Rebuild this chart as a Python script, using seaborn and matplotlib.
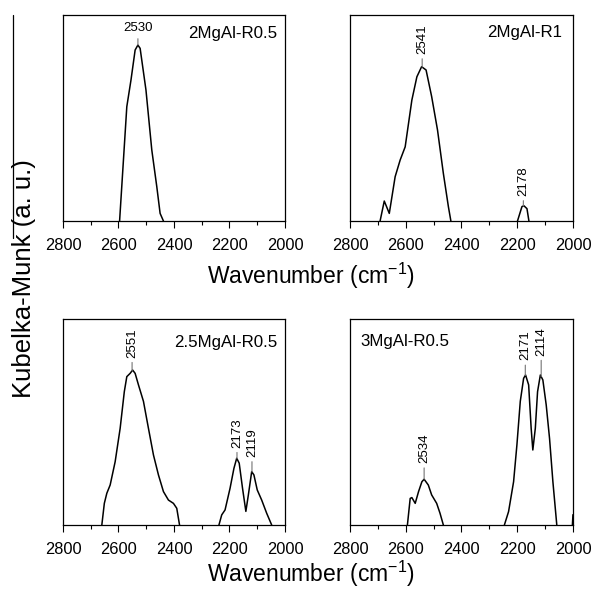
import numpy as np
import pandas as pd
import seaborn as sns
import matplotlib.pyplot as plt
from matplotlib.lines import Line2D

mg2_r05_x = [2596, 2570, 2555, 2540, 2530, 2522, 2501, 2480, 2462, 2450, 2438]
mg2_r05_y = [0, 0.555, 0.684, 0.830, 0.854, 0.838, 0.636, 0.345, 0.167, 0.037, 0.0]

mg2_r1_x1 = [2692, 2677, 2659, 2638, 2620, 2602, 2578, 2560, 2543, 2527, 2507, 2486, 2465, 2447, 2438]
mg2_r1_y1 = [0, 0.097, 0.037, 0.215, 0.296, 0.36, 0.587, 0.70, 0.749, 0.733, 0.604, 0.442, 0.231, 0.07, 0]
mg2_r1_x2 = [2199, 2183, 2176, 2165, 2158]
mg2_r1_y2 = [0, 0.07, 0.074, 0.06, 0]

mg25_r05_x1 = [2660, 2651, 2642, 2630, 2612, 2594, 2579, 2570, 2558, 2549, 2540, 2528, 2510, 2492,
               2474, 2456, 2438, 2420, 2402, 2390, 2380]
mg25_r05_y1 = [0, 0.105, 0.154, 0.194, 0.307, 0.469, 0.647, 0.72, 0.736, 0.752, 0.736, 0.68, 0.60, 0.469,
               0.34, 0.243, 0.162, 0.121, 0.105, 0.081, 0]
mg25_r05_x2 = [2238, 2228, 2216, 2198, 2184, 2174, 2165, 2153, 2141, 2132, 2120, 2112, 2100, 2084, 2066, 2048]
mg25_r05_y2 = [0, 0.049, 0.073, 0.178, 0.275, 0.324, 0.30, 0.178, 0.066, 0.146, 0.259, 0.243, 0.17, 0.121, 0.057, 0]

mg3_r05_x1 = [2594, 2584, 2578, 2566, 2554, 2542, 2534, 2519, 2507, 2489, 2477, 2465]
mg3_r05_y1 = [0, 0.129, 0.133, 0.105, 0.162, 0.21, 0.222, 0.194, 0.146, 0.105, 0.057, 0]
mg3_r05_x2 = [2246, 2231, 2213, 2201, 2189, 2177, 2170, 2159, 2150, 2144, 2135, 2127, 2117, 2108,
              2096, 2084, 2072, 2058]
mg3_r05_y2 = [0, 0.065, 0.21, 0.39, 0.60, 0.712, 0.728, 0.68, 0.47, 0.364, 0.47, 0.647, 0.728, 0.704,
              0.583, 0.42, 0.21, 0]
mg3_r05_x3 = [2002, 2000]
mg3_r05_y3 = [0, 0.05]

samples = ["2MgAl-R0.5", "2MgAl-R1", "2.5MgAl-R0.5", "3MgAl-R0.5"]
segments = [
    [(mg2_r05_x, mg2_r05_y)],
    [(mg2_r1_x1, mg2_r1_y1), (mg2_r1_x2, mg2_r1_y2)],
    [(mg25_r05_x1, mg25_r05_y1), (mg25_r05_x2, mg25_r05_y2)],
    [(mg3_r05_x1, mg3_r05_y1), (mg3_r05_x2, mg3_r05_y2), (mg3_r05_x3, mg3_r05_y3)],
]
peaks = [[2530], [2541, 2178], [2551, 2173, 2119], [2534, 2171, 2114]]
peak_gap = [[8], [10, 7], [10, 8, 12], [13, 12, 18]]

sns.set_style("ticks")
plt.rcParams['font.family'] = ['Liberation Sans', 'DejaVu Sans']
plt.rcParams['text.color'] = 'black'
plt.rcParams['axes.edgecolor'] = 'black'
plt.rcParams['xtick.color'] = 'black'
plt.rcParams['xtick.labelcolor'] = 'black'
plt.rcParams['mathtext.default'] = 'regular'

fig = plt.figure(figsize=(5.93, 5.90), dpi=100)
boxes = [[0.1062, 0.6254, 0.3744, 0.3492], [0.5902, 0.6254, 0.3760, 0.3492],
         [0.1062, 0.1102, 0.3744, 0.3492], [0.5902, 0.1102, 0.3760, 0.3492]]
label_pos = [(0.964, 0.908, 'right'), (0.95, 0.913, 'right'),
             (0.964, 0.888, 'right'), (0.045, 0.89, 'left')]

for i in range(4):
    ax = fig.add_axes(boxes[i])
    for sx, sy in segments[i]:
        df = pd.DataFrame({"wn": sx, "km": sy})
        sns.lineplot(data=df, x="wn", y="km", sort=False, estimator=None,
                     color="black", lw=1.1, ax=ax)
    ax.set_xlim(2800, 2000)
    ax.set_ylim(0, 1)
    ax.set_xticks([2800, 2600, 2400, 2200, 2000])
    ax.set_xticks(np.arange(2000, 2801, 100), minor=True)
    ax.set_yticks([])
    ax.set_xlabel("")
    ax.set_ylabel("")
    ax.tick_params(axis='x', which='major', direction='out', length=5, width=0.8,
                   labelsize=11.8, pad=7)
    ax.tick_params(axis='x', which='minor', direction='out', length=2.8, width=0.8)
    for s in ax.spines.values():
        s.set_linewidth(0.9)
    tx, ty, ha = label_pos[i]
    ax.text(tx, ty, samples[i], transform=ax.transAxes, ha=ha, va='center', fontsize=12.2)
    # peak labels
    allx = np.concatenate([np.array(s[0], float) for s in segments[i]])
    ally = np.concatenate([np.array(s[1], float) for s in segments[i]])
    order = np.argsort(allx)
    for p, g in zip(peaks[i], peak_gap[i]):
        py = np.interp(p, allx[order], ally[order])
        rot = 0 if i == 0 else 90
        ax.annotate(str(p), xy=(p, py), xytext=(0, g + 3), textcoords='offset pixels',
                    rotation=rot, ha='center', va='bottom', fontsize=9.5,
                    arrowprops=dict(arrowstyle='-', color='0.45', lw=0.8, shrinkA=1, shrinkB=0))

fig.text(0.524, 0.532, "Wavenumber (cm$^{-1}$)", ha='center', va='center', fontsize=16.5)
fig.text(0.524, 0.027, "Wavenumber (cm$^{-1}$)", ha='center', va='center', fontsize=16.5)
fig.text(0.040, 0.528, "Kubelka-Munk (a. u.)", ha='center', va='center', rotation=90, fontsize=18.5)
fig.add_artist(Line2D([13 / 593, 13 / 593], [1 - 15 / 590, 1 - 238 / 590],
                      transform=fig.transFigure, color='black', lw=0.9))

fig.savefig("out.png", dpi=100)
